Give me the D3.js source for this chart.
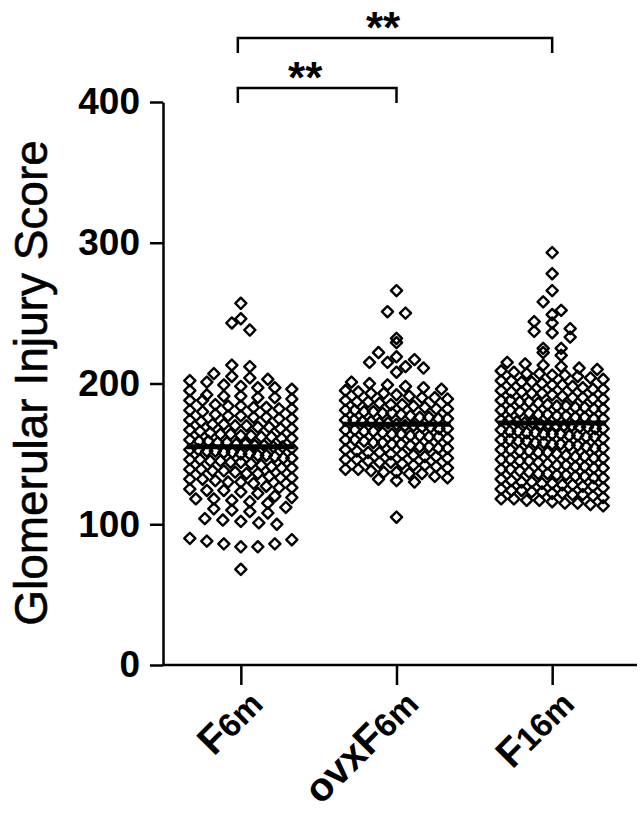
<!DOCTYPE html>
<html>
<head>
<meta charset="utf-8">
<script src="https://cdn.jsdelivr.net/npm/d3@7"></script>
<style>
  body { margin: 0; background: #fff; }
  svg { display: block; }
</style>
</head>
<body>
<script>
var groups = ["F6m", "ovxF6m", "F16m"];

var f6mValues = [257, 246, 243, 238, 213, 212, 207,
  205, 204, 203, 202, 201,
  199, 198, 197, 197, 196, 195,
  192, 191, 191, 190, 190, 189, 188, 188,
  185, 184, 184, 183, 183, 182, 182, 181, 180,
  178, 177, 177, 176, 176, 175, 175, 174, 173,
  171, 171, 170, 170, 169, 169, 168, 168, 167, 166,
  165, 164, 164, 163, 163, 162, 162, 161, 161, 160,
  159, 159, 158, 158, 157, 157, 156, 156, 155, 155, 154,
  153, 153, 152, 152, 151, 151, 150, 150, 149, 149, 148,
  147, 147, 146, 146, 145, 145, 144, 144, 143, 142,
  141, 140, 140, 139, 139, 138, 138, 137, 136, 136,
  134, 133, 133, 132, 132, 131, 130, 130, 129,
  127, 126, 126, 125, 124, 124, 123, 122,
  120, 119, 118, 118, 117, 116, 115,
  112, 111, 110, 109, 108,
  104, 103, 102, 101, 100,
  90, 88, 86, 84, 84, 86, 89,
  68];

var ovxValues = [266, 251, 250, 232, 229, 222, 219, 217, 215, 215, 212, 211, 208,
  201, 200, 199, 198, 197, 196,
  195, 194, 193, 193, 192, 191, 190, 190,
  189, 188, 187, 187, 186, 185, 185, 184, 183,
  182, 182, 181, 181, 180, 180, 179, 179, 178, 177,
  176, 176, 175, 175, 174, 174, 173, 173, 172, 172, 171,
  170, 170, 169, 169, 168, 168, 167, 167, 166, 166, 165,
  164, 164, 163, 163, 162, 162, 161, 160, 160, 159,
  158, 158, 157, 157, 156, 155, 155, 154, 154, 153,
  152, 151, 151, 150, 150, 149, 148, 148, 147,
  146, 146, 145, 144, 144, 143, 142, 142, 141,
  140, 139, 139, 138, 137, 137, 136, 136,
  134, 133, 132, 131, 130,
  105];

var f16mValues = [293, 278, 266, 258, 252, 249, 244, 243, 239, 237, 236, 233, 225, 225, 222, 220,
  215, 214, 213, 212, 211, 210, 209,
  208, 207, 207, 206, 206, 205, 204, 203,
  202, 202, 201, 201, 200, 199, 199, 198, 197,
  196, 196, 195, 194, 194, 193, 193, 192, 191,
  190, 190, 189, 189, 188, 188, 187, 187, 186, 185,
  184, 184, 183, 183, 182, 182, 181, 181, 180, 179,
  178, 178, 177, 177, 176, 176, 175, 175, 174, 174, 173,
  172, 172, 171, 171, 170, 170, 170, 169, 169, 168, 168, 167,
  166, 166, 165, 165, 164, 164, 164, 163, 163, 162, 162, 161,
  160, 160, 159, 159, 158, 158, 157, 157, 156, 156, 155,
  154, 154, 153, 153, 152, 152, 151, 151, 150, 149,
  148, 148, 147, 147, 146, 146, 145, 145, 144, 143,
  142, 142, 141, 141, 140, 140, 139, 139, 138, 137,
  136, 136, 135, 135, 134, 134, 133, 133, 132, 131,
  130, 130, 129, 129, 128, 128, 127, 127, 126, 125,
  124, 124, 123, 123, 122, 122, 121, 121, 120, 119,
  118, 118, 117, 117, 116, 115, 115, 114, 113];

var groupMeans = [155, 171, 172];
var yTicks = [0, 100, 200, 300, 400];
var comparisons = [
  {from: "F6m", to: "ovxF6m", label: "**"},
  {from: "F6m", to: "F16m", label: "**"}
];

var allValues = [f6mValues, ovxValues, f16mValues];

var svg = d3.select("body").append("svg")
    .attr("width", 640)
    .attr("height", 825);

var y = d3.scaleLinear().domain([0, 400]).range([665, 102]);
var x = d3.scalePoint().domain(groups).range([163, 630]).padding(0.5);

var fontFam = "'Liberation Sans', Arial, sans-serif";

// y axis
var yAxis = svg.append("g")
    .attr("transform", "translate(163,0)")
    .call(d3.axisLeft(y).tickValues(yTicks).tickSize(13).tickSizeOuter(0).tickPadding(10));
yAxis.selectAll("path, line").attr("stroke", "#000").attr("stroke-width", 2.5);
yAxis.selectAll("text")
    .attr("font-family", fontFam)
    .attr("font-weight", "bold")
    .attr("font-size", 37)
    .attr("fill", "#000");

// x axis
var xAxis = svg.append("g")
    .attr("transform", "translate(0,665)")
    .call(d3.axisBottom(x).tickSize(20).tickSizeOuter(0).tickFormat(""));
xAxis.select(".domain").attr("d", "M163,0H637");
xAxis.selectAll("path, line").attr("stroke", "#000").attr("stroke-width", 2.5);

// rotated category labels, digits drawn a bit smaller
groups.forEach(function(g) {
  var t = svg.append("text")
      .attr("transform", "translate(" + (x(g) + 24) + ",706) rotate(-45)")
      .attr("text-anchor", "end")
      .attr("font-family", fontFam)
      .attr("font-weight", "bold")
      .attr("font-size", 40);
  var m = g.match(/^(.*?)(\d+m)$/);
  t.append("tspan").text(m[1]);
  t.append("tspan").attr("font-size", 33).text(m[2]);
});

// y title
svg.append("text")
    .attr("transform", "translate(47,383) rotate(-90)")
    .attr("text-anchor", "middle")
    .attr("font-family", fontFam)
    .attr("font-size", 46)
    .attr("stroke", "#000")
    .attr("stroke-width", 0.6)
    .text("Glomerular Injury Score");

// row layout: points binned by value, spread across the column
var binSize = 7;
var colWidth = 102;
var points = [];
allValues.forEach(function(vals, gi) {
  var bins = d3.group(vals, function(v) { return Math.floor(v / binSize); });
  bins.forEach(function(row) {
    var n = row.length;
    var step = n > 1 ? Math.min(18, colWidth / (n - 1)) : 0;
    row.forEach(function(v, i) {
      points.push({g: groups[gi], v: v, dx: (i - (n - 1) / 2) * step});
    });
  });
});

var marker = d3.symbol().type(d3.symbolSquare).size(62);

svg.append("g").selectAll("path")
    .data(points)
    .enter().append("path")
    .attr("d", marker)
    .attr("transform", function(d) {
      return "translate(" + (x(d.g) + d.dx) + "," + y(d.v) + ") rotate(45)";
    })
    .attr("fill", "none")
    .attr("stroke", "#000")
    .attr("stroke-width", 2.4)
    .attr("stroke-linejoin", "round");

// mean lines
svg.append("g").selectAll("line")
    .data(groupMeans)
    .enter().append("line")
    .attr("x1", function(d, i) { return x(groups[i]) - 54; })
    .attr("x2", function(d, i) { return x(groups[i]) + 54; })
    .attr("y1", function(d) { return y(d); })
    .attr("y2", function(d) { return y(d); })
    .attr("stroke", "#000")
    .attr("stroke-width", 5);

// significance brackets
var bracketY = [88, 38];
comparisons.forEach(function(c, i) {
  var by = bracketY[i];
  var x1 = x(c.from) - 3, x2 = x(c.to);
  svg.append("path")
      .attr("d", "M" + x1 + "," + (by + 15) + "V" + by + "H" + x2 + "V" + (by + 15))
      .attr("fill", "none")
      .attr("stroke", "#000")
      .attr("stroke-width", 2.5);
  svg.append("text")
      .attr("x", (x1 + x2) / 2 - 12)
      .attr("y", by + 5)
      .attr("text-anchor", "middle")
      .attr("font-family", fontFam)
      .attr("font-weight", "bold")
      .attr("font-size", 44)
      .text(c.label);
});
</script>
</body>
</html>
